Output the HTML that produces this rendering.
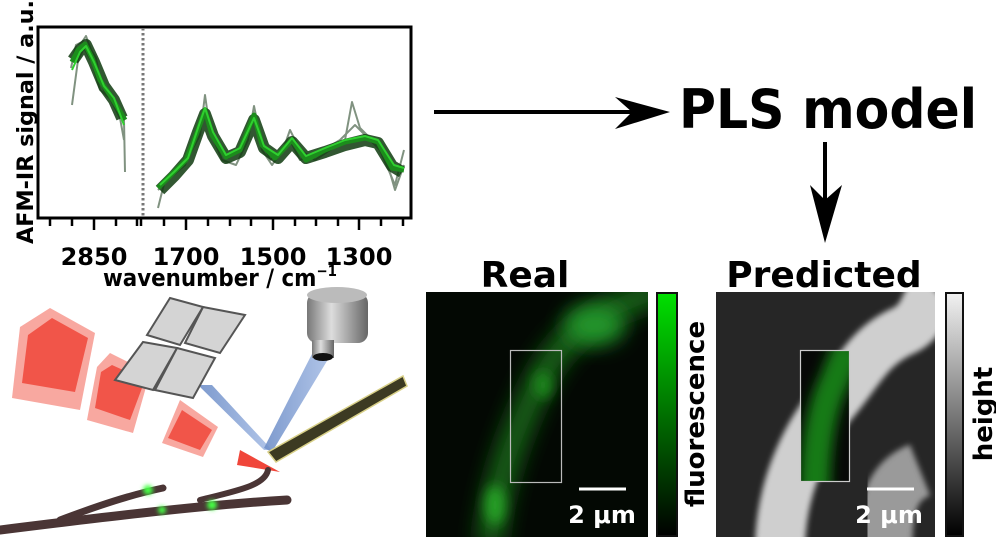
<!DOCTYPE html>
<html><head><meta charset="utf-8"><style>
html,body{margin:0;padding:0;background:#fff;width:996px;height:539px;overflow:hidden}
svg{display:block}
text{font-family:"DejaVu Sans","Liberation Sans",sans-serif;font-weight:bold}
</style></head><body>
<svg width="996" height="539" viewBox="0 0 996 539" xmlns="http://www.w3.org/2000/svg">
<defs>
<filter id="b10" x="-50%" y="-50%" width="200%" height="200%"><feGaussianBlur stdDeviation="10"/></filter>
<filter id="b6" x="-50%" y="-50%" width="200%" height="200%"><feGaussianBlur stdDeviation="6"/></filter>
<filter id="b3" x="-50%" y="-50%" width="200%" height="200%"><feGaussianBlur stdDeviation="3"/></filter>
<filter id="b2" x="-50%" y="-50%" width="200%" height="200%"><feGaussianBlur stdDeviation="2"/></filter>
<linearGradient id="gcb" x1="0" y1="0" x2="0" y2="1"><stop offset="0" stop-color="#00e000"/><stop offset="1" stop-color="#000"/></linearGradient>
<linearGradient id="hcb" x1="0" y1="0" x2="0" y2="1"><stop offset="0" stop-color="#f2f2f2"/><stop offset="1" stop-color="#000"/></linearGradient>
<linearGradient id="cyl" x1="0" y1="0" x2="1" y2="0"><stop offset="0" stop-color="#777"/><stop offset=".4" stop-color="#ddd"/><stop offset="1" stop-color="#666"/></linearGradient>
<linearGradient id="beam" x1="0" y1="0" x2="1" y2="0"><stop offset="0" stop-color="#6f8fc8"/><stop offset="1" stop-color="#a9bfe6"/></linearGradient>
<clipPath id="cpR"><rect x="426" y="292" width="222" height="245"/></clipPath>
<clipPath id="cpP"><rect x="716" y="292" width="219" height="245"/></clipPath>
<clipPath id="cpBox"><rect x="800" y="350" width="49" height="131"/></clipPath>
</defs>

<!-- Plot -->
<text transform="translate(33,122) rotate(-90)" font-size="22" text-anchor="middle" textLength="244" lengthAdjust="spacingAndGlyphs">AFM-IR signal / a.u.</text>
<g fill="none" stroke-linejoin="round">
<g stroke="#1a3a1a" opacity=".55" stroke-width="2">
<polyline points="71,68 76,45 82,42 86,36 91,50 96,58 100,80 106,95 112,100 118,110 124,120 125,172"/>
<polyline points="72,105 78,60 84,48 92,62 100,90 110,98 120,118 124,140"/>
<polyline points="158,208 165,180 178,170 192,150 200,135 205,95 210,130 222,160 236,165 248,140 254,106 260,135 270,160 283,150 290,130 300,150 315,160 330,150 345,140 352,102 360,128 372,140 380,150 395,185 404,150"/>
<polyline points="158,190 170,178 185,165 196,135 205,115 214,140 228,158 240,150 254,120 262,150 272,165 290,140 300,160 320,152 340,140 355,125 370,140 385,155 395,190 404,165"/>
</g>
<g stroke="#0e3a0e" stroke-width="12" opacity=".85">
<polyline points="73,60 80,50 86,45 94,62 104,86 114,100 122,118"/>
<polyline points="160,190 174,176 188,160 198,132 205,114 213,136 226,158 240,152 254,120 264,148 278,158 292,142 306,158 325,152 345,145 365,140 378,143 392,166 402,172"/>
</g>
<g stroke="#1c8c1c" stroke-width="5">
<polyline points="72,62 78,50 85,44 92,58 100,80 110,95 118,108 125,120"/>
<polyline points="158,188 172,174 186,160 198,130 205,110 212,135 226,157 240,150 254,115 262,145 275,158 292,140 306,160 325,150 345,142 365,138 378,142 392,168 404,170"/>
</g>
<g stroke="#2fd02f" stroke-width="2">
<polyline points="72,70 80,52 86,46 94,62 104,86 114,98 124,125"/>
<polyline points="160,185 174,172 188,158 198,128 205,108 213,132 226,155 240,148 254,118 264,146 278,155 292,138 306,156 325,148 345,140 365,136 378,140 394,165 404,168"/>
</g>
</g>
<rect x="38" y="27" width="373" height="191" fill="none" stroke="#000" stroke-width="3"/>
<line x1="143" y1="28" x2="143" y2="217" stroke="#777" stroke-width="3" stroke-dasharray="2.5,2.5"/>
<g stroke="#000" stroke-width="2.5">
<line x1="50" y1="218" x2="50" y2="226"/><line x1="72" y1="218" x2="72" y2="226"/><line x1="94" y1="218" x2="94" y2="230"/><line x1="116" y1="218" x2="116" y2="226"/><line x1="137" y1="218" x2="137" y2="226"/><line x1="141" y1="218" x2="141" y2="226"/>
<line x1="164" y1="218" x2="164" y2="226"/><line x1="186" y1="218" x2="186" y2="230"/><line x1="208" y1="218" x2="208" y2="226"/><line x1="230" y1="218" x2="230" y2="226"/><line x1="251" y1="218" x2="251" y2="226"/><line x1="273" y1="218" x2="273" y2="230"/><line x1="295" y1="218" x2="295" y2="226"/><line x1="316" y1="218" x2="316" y2="226"/><line x1="338" y1="218" x2="338" y2="226"/><line x1="359" y1="218" x2="359" y2="230"/><line x1="381" y1="218" x2="381" y2="226"/><line x1="403" y1="218" x2="403" y2="226"/>
</g>
<g font-size="24" text-anchor="middle">
<text x="94" y="265">2850</text><text x="186" y="265">1700</text><text x="273" y="265">1500</text><text x="359" y="265">1300</text>
<text x="220" y="286" textLength="234" lengthAdjust="spacingAndGlyphs">wavenumber / cm<tspan font-size="15" dy="-10">−1</tspan></text>
</g>

<!-- arrows & PLS -->
<line x1="434" y1="112" x2="640" y2="112" stroke="#000" stroke-width="4"/>
<polygon points="670,112 615,97 632,112 615,129" fill="#000"/>
<text x="679" y="128" font-size="54" textLength="298" lengthAdjust="spacingAndGlyphs">PLS model</text>
<line x1="825" y1="142" x2="825" y2="210" stroke="#000" stroke-width="4"/>
<polygon points="825,243 810,185 825,200 842,185" fill="#000"/>

<!-- Real -->
<text x="525" y="287" font-size="36" text-anchor="middle">Real</text>
<rect x="426" y="292" width="222" height="245" fill="#030803"/>
<g clip-path="url(#cpR)">
<path d="M490,545 C495,480 520,420 540,380 C560,340 590,320 620,305 L660,290" stroke="#135e13" stroke-width="28" fill="none" filter="url(#b10)"/>
<ellipse cx="495" cy="505" rx="10" ry="20" fill="#26a026" filter="url(#b6)"/>
<ellipse cx="543" cy="385" rx="9" ry="14" fill="#1f861f" filter="url(#b6)"/>
<ellipse cx="595" cy="325" rx="30" ry="20" fill="#23942a" filter="url(#b10)"/>
</g>
<rect x="510.5" y="350.5" width="51" height="132" fill="none" stroke="#bbb" stroke-width="1.2"/>
<line x1="579" y1="489" x2="626" y2="489" stroke="#fff" stroke-width="3"/>
<text x="602" y="523" font-size="24" fill="#fff" text-anchor="middle">2 μm</text>
<rect x="657" y="293" width="20" height="243" fill="url(#gcb)" stroke="#111" stroke-width="2"/>
<text transform="translate(704,414) rotate(-90)" font-size="26" text-anchor="middle">fluorescence</text>

<!-- Predicted -->
<text x="824" y="287" font-size="36" text-anchor="middle">Predicted</text>
<rect x="716" y="292" width="219" height="245" fill="#262626"/>
<g clip-path="url(#cpP)">
<path d="M780,545 C782,480 810,430 835,400 C860,370 870,345 905,330 C925,320 925,300 935,290" stroke="#cfcfcf" stroke-width="50" fill="none" filter="url(#b3)"/>
<path d="M885,545 C885,500 895,480 920,470" stroke="#9a9a9a" stroke-width="55" fill="none" filter="url(#b3)"/>
</g>
<rect x="800" y="350" width="49" height="131" fill="#060806"/>
<g clip-path="url(#cpBox)">
<path d="M815,495 C815,450 820,410 835,380 C840,365 845,355 850,345" stroke="#187a18" stroke-width="30" fill="none" filter="url(#b6)"/>
</g>
<rect x="800.5" y="350.5" width="49" height="131" fill="none" stroke="#ccc" stroke-width="1.2"/>
<line x1="867" y1="489" x2="914" y2="489" stroke="#fff" stroke-width="3"/>
<text x="889" y="523" font-size="24" fill="#fff" text-anchor="middle">2 μm</text>
<rect x="946" y="293" width="17" height="243" fill="url(#hcb)" stroke="#111" stroke-width="2"/>
<text transform="translate(992,414) rotate(-90)" font-size="26" text-anchor="middle">height</text>

<!-- illustration -->
<polygon points="50,308 95,333 80,410 12,398 20,327" fill="#f8a8a0"/>
<polygon points="52,318 88,338 75,392 22,383 28,335" fill="#f0463a" opacity=".85"/>
<polygon points="110,353 150,373 133,433 87,420 97,367" fill="#f8a8a0"/>
<polygon points="112,365 145,380 130,420 95,408 101,372" fill="#f0463a" opacity=".85"/>
<polygon points="180,400 218,427 203,457 162,443" fill="#f8a8a0"/>
<polygon points="182,410 212,430 200,450 168,438" fill="#f0463a" opacity=".85"/>
<polygon points="240,450 280,472 237,465" fill="#f0463a"/>
<polygon points="198,385 212,385 272,450 264,450" fill="url(#beam)" opacity=".9"/>
<polygon points="314,350 330,356 272,452 264,448" fill="url(#beam)" opacity=".9"/>
<polygon points="170,298 203,307 180,345 147,335" fill="#d4d4d4" stroke="#555" stroke-width="2"/>
<polygon points="203,307 245,315 220,353 185,343" fill="#d4d4d4" stroke="#555" stroke-width="2"/>
<polygon points="143,342 177,348 153,390 115,380" fill="#d4d4d4" stroke="#555" stroke-width="2"/>
<polygon points="177,348 215,358 193,398 155,390" fill="#d4d4d4" stroke="#555" stroke-width="2"/>
<rect x="307" y="293" width="61" height="50" rx="10" fill="url(#cyl)"/>
<ellipse cx="337" cy="295" rx="30" ry="8" fill="#bbb"/>
<rect x="312" y="340" width="22" height="18" fill="url(#cyl)"/>
<ellipse cx="323" cy="357" rx="10" ry="4" fill="#111"/>
<polygon points="403,376 407,386 276,462 268,452" fill="#3c3a22" stroke="#d8d088" stroke-width="1.5"/>
<path d="M0,530 C80,520 200,505 287,500" stroke="#4a3535" stroke-width="9" fill="none" stroke-linecap="round"/>
<path d="M60,520 C100,505 130,495 163,488" stroke="#4a3535" stroke-width="7" fill="none" stroke-linecap="round"/>
<path d="M200,500 C240,490 265,485 268,470" stroke="#4a3535" stroke-width="6" fill="none" stroke-linecap="round"/>
<circle cx="148" cy="490" r="5" fill="#4f4" filter="url(#b2)"/>
<circle cx="162" cy="510" r="4" fill="#4f4" filter="url(#b2)"/>
<circle cx="212" cy="505" r="5" fill="#4f4" filter="url(#b2)"/>
</svg>
</body></html>
